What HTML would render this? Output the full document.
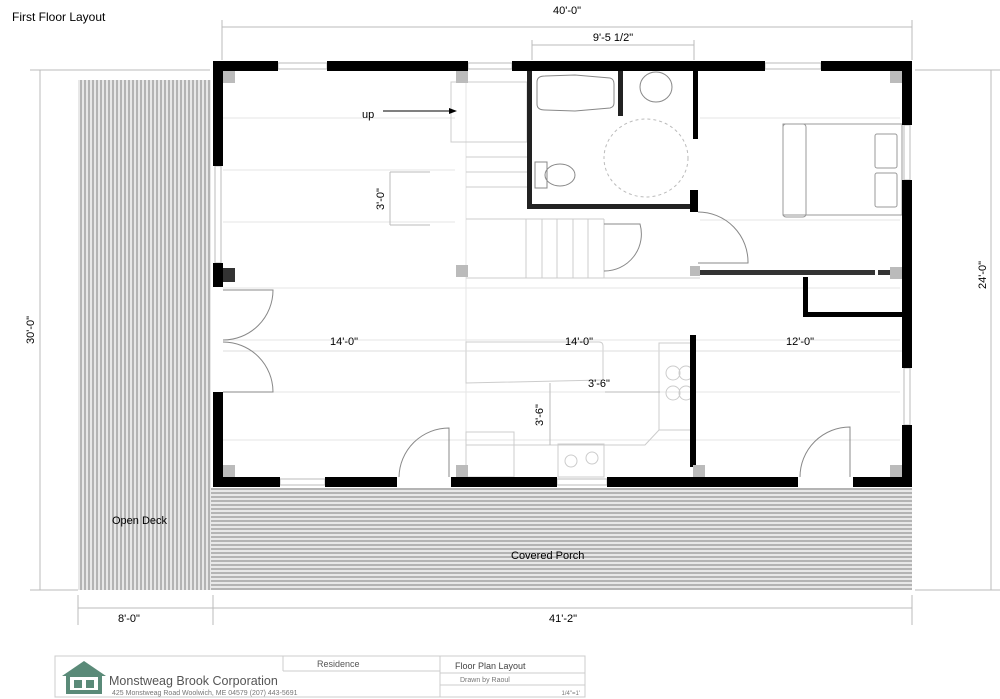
<!DOCTYPE html>
<html><head><meta charset="utf-8"><style>
html,body{margin:0;padding:0;background:#fff;}
svg{display:block;font-family:"Liberation Sans",sans-serif;}
</style></head><body>
<svg width="1000" height="699" viewBox="0 0 1000 699" xmlns="http://www.w3.org/2000/svg">
<defs>
<pattern id="vs" width="4" height="4" patternUnits="userSpaceOnUse"><rect width="4" height="4" fill="#e8e8e8"/><rect width="2" height="4" fill="#b4b4b4"/></pattern>
<pattern id="hs" width="4" height="4" patternUnits="userSpaceOnUse"><rect width="4" height="4" fill="#e8e8e8"/><rect width="4" height="2" fill="#b4b4b4"/></pattern>
</defs>
<text x="12" y="21" font-size="12">First Floor Layout</text>
<rect x="78" y="80" width="133" height="510" fill="url(#vs)"/>
<rect x="211" y="488" width="701" height="102" fill="url(#hs)"/>
<text x="112" y="524" font-size="11">Open Deck</text>
<text x="511" y="559" font-size="11">Covered Porch</text>
<g stroke="#e6e6e6" stroke-width="1" fill="none">
<line x1="223" y1="118" x2="455" y2="118"/><line x1="223" y1="170" x2="455" y2="170"/><line x1="223" y1="222" x2="455" y2="222"/>
<line x1="223" y1="288" x2="900" y2="288"/><line x1="223" y1="340" x2="900" y2="340"/><line x1="223" y1="392" x2="900" y2="392"/><line x1="223" y1="440" x2="900" y2="440"/>
<line x1="466" y1="71" x2="466" y2="477"/><line x1="700" y1="118" x2="900" y2="118"/><line x1="700" y1="220" x2="900" y2="220"/>
</g>
<g stroke="#ccc" stroke-width="1" fill="none">
<rect x="451" y="82" width="76" height="60"/>
<line x1="466" y1="157" x2="527" y2="157"/><line x1="466" y1="172" x2="527" y2="172"/><line x1="466" y1="187" x2="527" y2="187"/>
<line x1="466" y1="219" x2="604" y2="219"/><line x1="466" y1="278" x2="700" y2="278"/>
<line x1="526" y1="219" x2="526" y2="278"/><line x1="542" y1="219" x2="542" y2="278"/><line x1="557" y1="219" x2="557" y2="278"/><line x1="573" y1="219" x2="573" y2="278"/><line x1="588" y1="219" x2="588" y2="278"/><line x1="604" y1="219" x2="604" y2="278"/>
</g>
<path d="M604 224 L640 224 A37 37 0 0 1 604 271" stroke="#888" fill="none"/>
<text x="362" y="118" font-size="11">up</text>
<line x1="383" y1="111" x2="450" y2="111" stroke="#000"/><path d="M457 111 L449 108 L449 114Z"/>
<g stroke="#bbb" fill="none"><line x1="390" y1="172" x2="390" y2="225"/><line x1="390" y1="172" x2="430" y2="172"/><line x1="390" y1="225" x2="430" y2="225"/></g>
<text transform="translate(384,199) rotate(-90)" font-size="11" text-anchor="middle">3'-0"</text>
<g stroke="#888" fill="none" stroke-width="1">
<path d="M537 82 Q537 76 545 76 L575 75 L610 78 Q614 79 614 84 L614 103 Q614 107 610 108 L575 111 L545 110 Q537 110 537 104Z"/>
<ellipse cx="656" cy="87" rx="16" ry="15"/>
<ellipse cx="646" cy="158" rx="42" ry="39" stroke-dasharray="3,3" stroke="#bbb"/>
<rect x="535" y="162" width="12" height="26"/><ellipse cx="560" cy="175" rx="15" ry="11"/>
</g>
<g stroke="#999" fill="none">
<rect x="783" y="124" width="119" height="91"/><rect x="783" y="124" width="23" height="93" rx="3"/>
<rect x="875" y="134" width="22" height="34" rx="2"/><rect x="875" y="173" width="22" height="34" rx="2"/>
</g>
<g stroke="#ccc" fill="none">
<path d="M466 342 L599 342 Q603 342 603 346 L603 380 L466 383 Z"/>
<rect x="659" y="343" width="33" height="87"/>
<circle cx="673" cy="373" r="7"/><circle cx="686" cy="373" r="7"/><circle cx="673" cy="393" r="7"/><circle cx="686" cy="393" r="7"/>
<path d="M659 430 L645 445 L466 445"/><rect x="466" y="432" width="48" height="45"/>
<rect x="558" y="444" width="46" height="33"/><circle cx="571" cy="461" r="6"/><circle cx="592" cy="458" r="6"/>
</g>
<text x="599" y="387" font-size="11" text-anchor="middle">3'-6"</text>
<line x1="605" y1="392" x2="660" y2="392" stroke="#bbb"/>
<text transform="translate(543,415) rotate(-90)" font-size="11" text-anchor="middle">3'-6"</text>
<line x1="550" y1="383" x2="550" y2="445" stroke="#bbb"/>
<line x1="223" y1="351" x2="902" y2="351" stroke="#ddd"/>
<text x="330" y="345" font-size="11">14'-0"</text>
<text x="565" y="345" font-size="11">14'-0"</text>
<text x="786" y="345" font-size="11">12'-0"</text>
<g stroke="#888" fill="none">
<path d="M223 290 L273 290 A50 50 0 0 1 223 340"/>
<path d="M223 392 L273 392 A50 50 0 0 0 223 342"/>
<path d="M449 477 L449 428 A50 50 0 0 0 399 477"/>
<path d="M698 212 A50 50 0 0 1 748 263 L698 263"/>
<path d="M850 477 L850 427 A50 50 0 0 0 800 477"/>
</g>
<!-- window frames -->
<g stroke="#bbb" fill="none">
<rect x="278" y="63" width="49" height="6"/><rect x="468" y="63" width="44" height="6"/><rect x="765" y="63" width="56" height="6"/>
<rect x="280" y="479" width="45" height="6"/><rect x="557" y="479" width="50" height="6"/>
<rect x="215" y="166" width="6" height="97"/><rect x="904" y="125" width="6" height="55"/><rect x="904" y="368" width="6" height="57"/>
</g>
<g fill="#000">
<rect x="213" y="61" width="65" height="10"/><rect x="327" y="61" width="141" height="10"/><rect x="512" y="61" width="253" height="10"/><rect x="821" y="61" width="91" height="10"/>
<rect x="213" y="61" width="10" height="105"/><rect x="213" y="263" width="10" height="24"/><rect x="223" y="268" width="12" height="14" fill="#333"/><rect x="213" y="392" width="10" height="95"/>
<rect x="902" y="61" width="10" height="64"/><rect x="902" y="180" width="10" height="188"/><rect x="902" y="425" width="10" height="62"/>
<rect x="213" y="477" width="67" height="10"/><rect x="325" y="477" width="72" height="10"/><rect x="451" y="477" width="106" height="10"/><rect x="607" y="477" width="191" height="10"/><rect x="853" y="477" width="59" height="10"/>
<rect x="527" y="71" width="5" height="138" fill="#222"/><rect x="527" y="204" width="168" height="5" fill="#222"/>
<rect x="618" y="71" width="5" height="45" fill="#222"/>
<rect x="693" y="71" width="5" height="68"/><rect x="690" y="190" width="8" height="22"/>
<rect x="700" y="270" width="175" height="5" fill="#333"/><rect x="878" y="270" width="15" height="5" fill="#333"/>
<rect x="803" y="277" width="5" height="40"/><rect x="803" y="312" width="99" height="5"/>
<rect x="690" y="335" width="6" height="132"/>
</g>
<g fill="#bbb"><rect x="223" y="71" width="12" height="12"/><rect x="456" y="71" width="12" height="12"/><rect x="890" y="71" width="12" height="12"/><rect x="456" y="265" width="12" height="12"/><rect x="890" y="267" width="12" height="12"/><rect x="223" y="465" width="12" height="12"/><rect x="456" y="465" width="12" height="12"/><rect x="693" y="465" width="12" height="12"/><rect x="890" y="465" width="12" height="12"/><rect x="690" y="266" width="10" height="10"/></g>
<g stroke="#bbb" fill="none">
<line x1="222" y1="27" x2="912" y2="27"/><line x1="222" y1="20" x2="222" y2="60"/><line x1="912" y1="20" x2="912" y2="60"/>
<line x1="532" y1="45" x2="694" y2="45"/><line x1="532" y1="40" x2="532" y2="60"/><line x1="694" y1="40" x2="694" y2="60"/>
<line x1="40" y1="70" x2="40" y2="590"/><line x1="30" y1="70" x2="210" y2="70"/><line x1="30" y1="590" x2="78" y2="590"/>
<line x1="991" y1="70" x2="991" y2="590"/><line x1="915" y1="70" x2="1000" y2="70"/><line x1="915" y1="590" x2="1000" y2="590"/>
<line x1="78" y1="608" x2="912" y2="608"/><line x1="78" y1="595" x2="78" y2="625"/><line x1="213" y1="595" x2="213" y2="625"/><line x1="912" y1="595" x2="912" y2="625"/>
</g>
<g font-size="11" text-anchor="middle">
<text x="567" y="14">40'-0"</text><text x="613" y="41">9'-5 1/2"</text>
<text transform="translate(34,330) rotate(-90)">30'-0"</text>
<text transform="translate(986,275) rotate(-90)">24'-0"</text>
<text x="129" y="622">8'-0"</text><text x="563" y="622">41'-2"</text>
</g>
<g stroke="#ccc" fill="none">
<rect x="55" y="656" width="530" height="41"/><line x1="283" y1="656" x2="283" y2="671"/><line x1="283" y1="671" x2="440" y2="671"/><line x1="440" y1="656" x2="440" y2="697"/><line x1="440" y1="673" x2="585" y2="673"/><line x1="440" y1="685" x2="585" y2="685"/>
</g>
<path d="M62 676 L84 661 L106 676 L102 676 L102 694 L66 694 L66 676Z" fill="#5a8a78"/><rect x="70" y="677" width="28" height="13" fill="#fff"/><rect x="74" y="680" width="8" height="8" fill="#5a8a78"/><rect x="86" y="680" width="8" height="8" fill="#5a8a78"/>
<text x="109" y="685" font-size="12.5" fill="#555">Monstweag Brook Corporation</text>
<text x="112" y="695" font-size="7" fill="#777">425 Monstweag Road  Woolwich, ME 04579     (207) 443-5691</text>
<text x="317" y="667" font-size="9" fill="#555">Residence</text>
<text x="455" y="669" font-size="9" fill="#444">Floor Plan Layout</text>
<text x="460" y="682" font-size="7" fill="#777">Drawn by Raoul</text>
<text x="580" y="695" font-size="6" fill="#777" text-anchor="end">1/4"=1'</text>
</svg>
</body></html>
